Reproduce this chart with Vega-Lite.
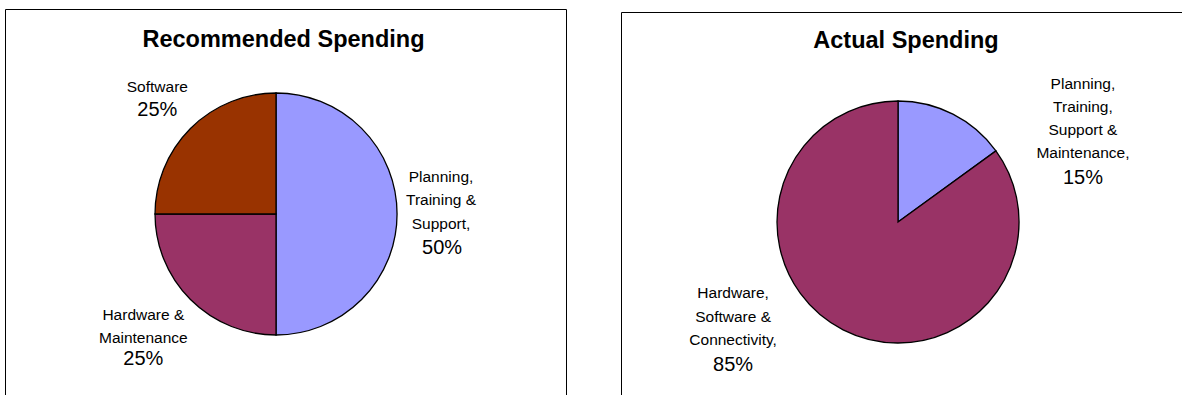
{
  "$schema": "https://vega.github.io/schema/vega-lite/v6.json",
  "padding": {"left": 4, "top": 8, "right": 0, "bottom": 0},
  "background": "white",
  "spacing": 55,
  "bounds": "flush",
  "center": true,
  "config": {
    "view": {"stroke": "black", "strokeWidth": 1},
    "font": "Liberation Sans",
    "text": {"font": "Liberation Sans", "color": "black", "align": "center", "baseline": "middle", "clip": true}
  },
  "resolve": {"scale": {"color": "independent", "theta": "independent"}},
  "hconcat": [
    {
      "width": 561,
      "height": 390,
      "title": {"text": "Recommended Spending", "font": "Liberation Sans", "fontSize": 23.5, "fontWeight": "bold", "color": "black", "anchor": "middle", "frame": "group", "offset": -42, "dx": -2},
      "data": {"values": [
        {"chart": "Recommended Spending", "cat": "Planning, Training & Support", "label": ["Planning,", "Training &", "Support,"], "pct": "50%", "value": 50, "order": 1},
        {"chart": "Recommended Spending", "cat": "Hardware & Maintenance", "label": ["Hardware &", "Maintenance"], "pct": "25%", "value": 25, "order": 2},
        {"chart": "Recommended Spending", "cat": "Software", "label": ["Software"], "pct": "25%", "value": 25, "order": 3}
      ]},
      "encoding": {
        "x": {"field": "chart", "type": "nominal", "scale": {"type": "point", "padding": 0, "align": 0.4831}, "axis": null},
        "y": {"field": "chart", "type": "nominal", "scale": {"type": "point", "padding": 0, "align": 0.5256}, "axis": null},
        "theta": {"field": "value", "type": "quantitative", "stack": true},
        "order": {"field": "order", "type": "quantitative"}
      },
      "layer": [
        {
          "mark": {"type": "arc", "radius": 121, "stroke": "black", "strokeWidth": 1.3},
          "encoding": {
            "color": {"field": "cat", "type": "nominal", "legend": null,
              "scale": {"domain": ["Planning, Training & Support", "Hardware & Maintenance", "Software"], "range": ["#9999FF", "#993366", "#993300"]}}
          }
        },
        {
          "mark": {"type": "text", "clip": true, "radius": 165, "dx": 0, "dy": -37, "fontSize": 15.5, "lineHeight": 23.5},
          "encoding": {"text": {"condition": {"test": "datum.order === 1", "field": "label"}, "value": ""}}
        },
        {
          "mark": {"type": "text", "clip": true, "radius": 165, "dx": 1, "dy": 34, "fontSize": 20},
          "encoding": {"text": {"condition": {"test": "datum.order === 1", "field": "pct"}, "value": ""}}
        },
        {
          "mark": {"type": "text", "clip": true, "radius": 165, "dx": -16, "dy": -15.7, "fontSize": 15.5, "lineHeight": 23},
          "encoding": {"text": {"condition": {"test": "datum.order === 2", "field": "label"}, "value": ""}}
        },
        {
          "mark": {"type": "text", "clip": true, "radius": 165, "dx": -16, "dy": 28, "fontSize": 20},
          "encoding": {"text": {"condition": {"test": "datum.order === 2", "field": "pct"}, "value": ""}}
        },
        {
          "mark": {"type": "text", "clip": true, "radius": 165, "dx": -2, "dy": -10, "fontSize": 15.5, "lineHeight": 23.5},
          "encoding": {"text": {"condition": {"test": "datum.order === 3", "field": "label"}, "value": ""}}
        },
        {
          "mark": {"type": "text", "clip": true, "radius": 165, "dx": -2, "dy": 13, "fontSize": 20},
          "encoding": {"text": {"condition": {"test": "datum.order === 3", "field": "pct"}, "value": ""}}
        }
      ]
    },
    {
      "width": 561,
      "height": 384,
      "title": {"text": "Actual Spending", "font": "Liberation Sans", "fontSize": 23.5, "fontWeight": "bold", "color": "black", "anchor": "middle", "frame": "group", "offset": -40, "dx": 4.5},
      "data": {"values": [
        {"chart": "Actual Spending", "cat": "Planning, Training, Support & Maintenance", "label": ["Planning,", "Training,", "Support &", "Maintenance,"], "pct": "15%", "value": 15, "order": 1},
        {"chart": "Actual Spending", "cat": "Hardware, Software & Connectivity", "label": ["Hardware,", "Software &", "Connectivity,"], "pct": "85%", "value": 85, "order": 2}
      ]},
      "encoding": {
        "x": {"field": "chart", "type": "nominal", "scale": {"type": "point", "padding": 0, "align": 0.4938}, "axis": null},
        "y": {"field": "chart", "type": "nominal", "scale": {"type": "point", "padding": 0, "align": 0.5469}, "axis": null},
        "theta": {"field": "value", "type": "quantitative", "stack": true},
        "order": {"field": "order", "type": "quantitative"}
      },
      "layer": [
        {
          "mark": {"type": "arc", "radius": 121, "stroke": "black", "strokeWidth": 1.3},
          "encoding": {
            "color": {"field": "cat", "type": "nominal", "legend": null,
              "scale": {"domain": ["Planning, Training, Support & Maintenance", "Hardware, Software & Connectivity"], "range": ["#9999FF", "#993366"]}}
          }
        },
        {
          "mark": {"type": "text", "clip": true, "radius": 165, "dx": 110, "dy": 9, "fontSize": 15.5, "lineHeight": 23},
          "encoding": {"text": {"condition": {"test": "datum.order === 1", "field": "label"}, "value": ""}}
        },
        {
          "mark": {"type": "text", "clip": true, "radius": 165, "dx": 110, "dy": 103, "fontSize": 20},
          "encoding": {"text": {"condition": {"test": "datum.order === 1", "field": "pct"}, "value": ""}}
        },
        {
          "mark": {"type": "text", "clip": true, "radius": 165, "dx": -90, "dy": -76, "fontSize": 15.5, "lineHeight": 23.5},
          "encoding": {"text": {"condition": {"test": "datum.order === 2", "field": "label"}, "value": ""}}
        },
        {
          "mark": {"type": "text", "clip": true, "radius": 165, "dx": -90, "dy": -4, "fontSize": 20},
          "encoding": {"text": {"condition": {"test": "datum.order === 2", "field": "pct"}, "value": ""}}
        }
      ]
    }
  ]
}
